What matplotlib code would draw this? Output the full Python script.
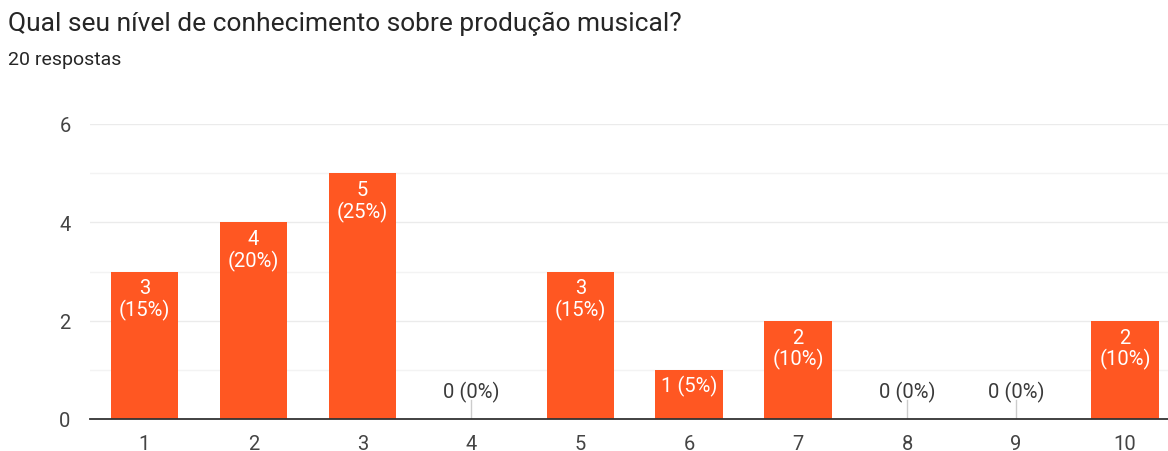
import matplotlib.pyplot as plt
from matplotlib.ticker import MultipleLocator

plt.rcParams['font.family'] = ['Roboto', 'DejaVu Sans']

# survey answers: knowledge level 1..10
niveis = ['1', '2', '3', '4', '5', '6', '7', '8', '9', '10']
respostas = [3, 4, 5, 0, 3, 1, 2, 0, 0, 2]
total = 20

titulo = 'Qual seu nível de conhecimento sobre produção musical?'
subtitulo = '20 respostas'

laranja = '#ff5722'
cinza_txt = '#444444'

fig = plt.figure(figsize=(11.68, 4.52), dpi=100)
fig.text(8 / 1168, 1 - 24 / 452, titulo, fontsize=19, color='#262626', va='center')
fig.text(8 / 1168, 1 - 60 / 452, subtitulo, fontsize=14, color='#262626', va='center')

ax = fig.add_axes([90 / 1168, 32 / 452, 1089.5 / 1168, 295 / 452])
x = list(range(len(niveis)))
ax.bar(x, respostas, width=0.62, color=laranja, zorder=3)

ax.set_xlim(-0.5, len(niveis) - 0.5)
ax.set_ylim(0, 6)
ax.yaxis.set_major_locator(MultipleLocator(2))
ax.yaxis.set_minor_locator(MultipleLocator(1))
ax.grid(axis='y', which='major', color='#ebebeb', lw=1, zorder=0)
ax.grid(axis='y', which='minor', color='#f3f3f3', lw=1, zorder=0)
for s in ['top', 'right', 'left']:
    ax.spines[s].set_visible(False)
ax.spines['bottom'].set_color('#333333')
ax.spines['bottom'].set_linewidth(1.3)
ax.spines['bottom'].set_zorder(4)

ax.set_xticks(x)
ax.set_xticklabels(niveis)
ax.tick_params(axis='x', length=0, pad=11, labelsize=14.5, labelcolor=cinza_txt)
ax.tick_params(axis='y', which='both', length=0, pad=14, labelsize=14.5, labelcolor=cinza_txt)

# value labels: inside the bar in white, above the axis for empty answers
for xi, v in zip(x, respostas):
    pct = round(100 * v / total)
    if v >= 2:
        ax.annotate(f'{v}\n({pct}%)', (xi, v), xytext=(0, -5), textcoords='offset points',
                    ha='center', va='top', color='white', fontsize=14.5, linespacing=1.1, zorder=5)
    elif v == 1:
        ax.annotate(f'{v} ({pct}%)', (xi, v), xytext=(0, -4), textcoords='offset points',
                    ha='center', va='top', color='white', fontsize=14.5, zorder=5)
    else:
        ax.plot([xi, xi], [0, 0.38], color='#cccccc', lw=1, zorder=2)
        ax.annotate(f'{v} ({pct}%)', (xi, 0.38), xytext=(0, -1), textcoords='offset points',
                    ha='center', va='bottom', color='#3a3a3a', fontsize=14.5, zorder=5)

fig.savefig('out.png', dpi=100)
